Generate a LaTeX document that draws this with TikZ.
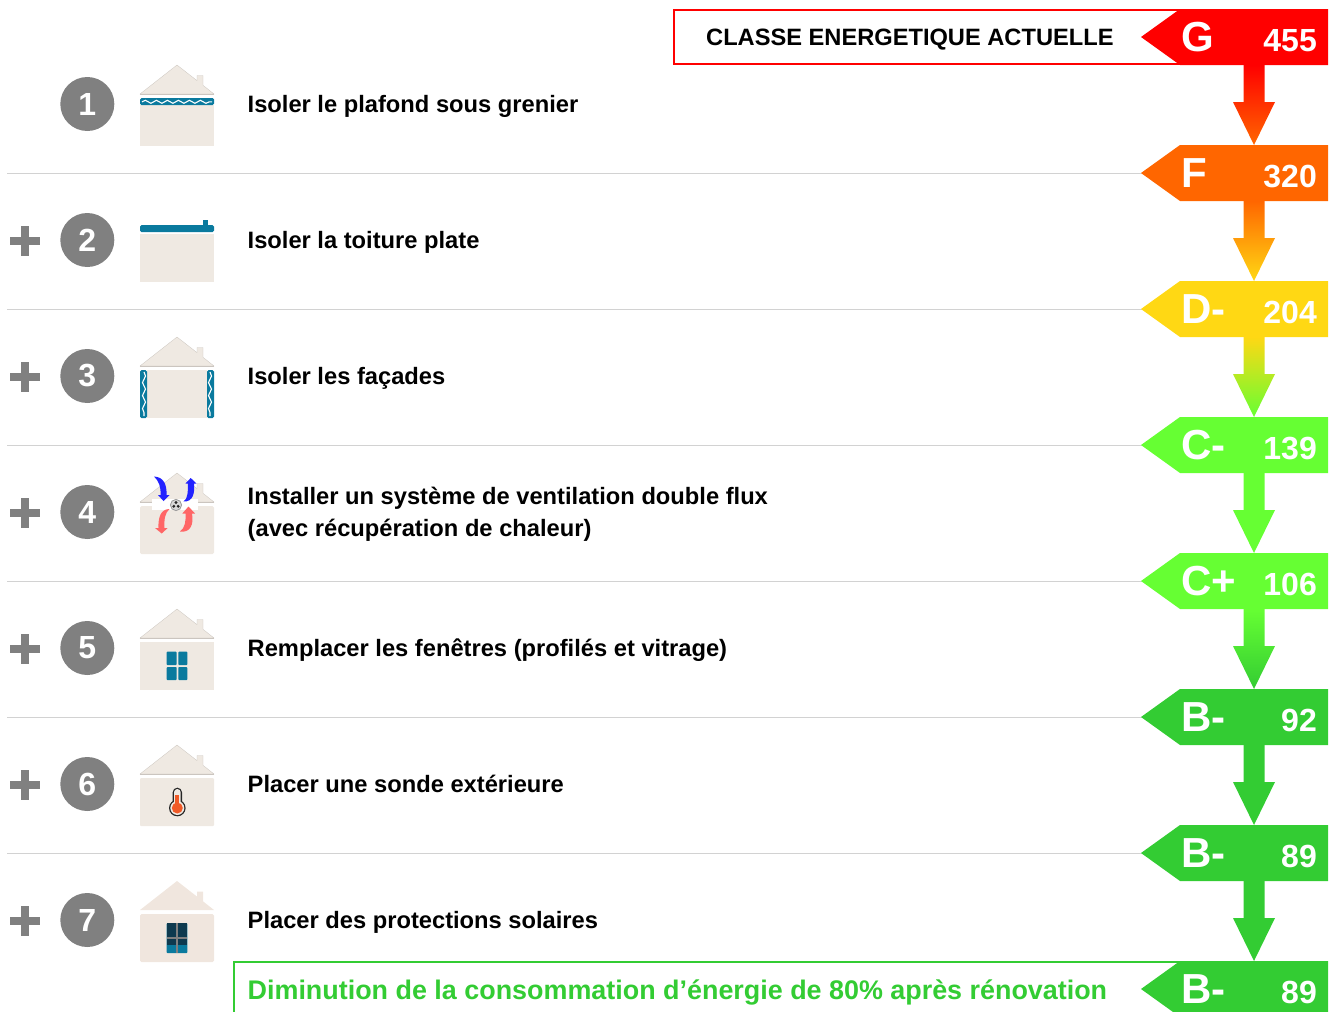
\documentclass[tikz,border=0pt]{standalone}
\usepackage{fontspec}
\setmainfont[Ligatures=NoCommon]{Liberation Sans}
\usetikzlibrary{decorations.pathmorphing,calc,arrows.meta}
\definecolor{wall}{HTML}{EFE9E2}
\definecolor{wallb}{HTML}{F0E6DE}
\definecolor{roofline}{HTML}{CBC5BF}
\definecolor{teal}{HTML}{0A7A9E}
\definecolor{darkpane}{HTML}{0E3A4F}
\definecolor{badge}{HTML}{808080}
\definecolor{sepline}{HTML}{D2D2D2}
\definecolor{cG}{HTML}{FF0000}
\definecolor{cF}{HTML}{FF6600}
\definecolor{cD}{HTML}{FFD814}
\definecolor{cC}{HTML}{66FF33}
\definecolor{cB}{HTML}{33CC33}
\definecolor{airblue}{HTML}{2222FF}
\definecolor{airred}{HTML}{FF6666}
\definecolor{thermo}{HTML}{F05A28}
\tikzset{
  bandbox/.style={minimum width=187pt,minimum height=56pt,inner sep=0pt,outer sep=0pt},
  bandletter/.style={anchor=base west,text=white,inner sep=0pt,font=\fontsize{42}{42}\selectfont\bfseries},
  bandvalue/.style={anchor=base east,text=white,inner sep=0pt,font=\fontsize{32}{32}\selectfont\bfseries},
  numbadge/.style={circle,fill=badge,text=white,minimum size=54pt,inner sep=0pt,font=\fontsize{32}{32}\selectfont\bfseries},
  steptext/.style={anchor=base west,inner sep=0pt,text=black,font=\fontsize{23.7}{23.7}\selectfont\bfseries},
  sep/.style={draw=sepline,line width=0.9pt},
  wave/.style={draw=white,line width=1.1pt,decorate,decoration={snake,amplitude=1.5pt,segment length=11pt}},
}
% name, centre y, colour, letter, value
\newcommand{\band}[5]{%
  \node[bandbox] (b#1) at (1234.5,#2) {};
  \fill[#3] (b#1.west) -- ($(b#1.north west)+(39,0)$) -- (b#1.north east) -- (b#1.south east) -- ($(b#1.south west)+(39,0)$) -- cycle;
  \coordinate (b#1-in) at ($(b#1.north west)+(113,0)$);
  \coordinate (b#1-out) at ($(b#1.south west)+(113,0)$);
  \node[bandletter] (l#1) at ($(b#1.center)+(-53.5,14)$) {#4};
  \node[bandvalue] (v#1) at ($(b#1.center)+(82.5,14)$) {#5};
}
\newcommand{\flow}[4]{%
  \shade[top color=#3,bottom color=#4]
    ($(b#1-out)+(-10.5,0)$) -- ($(b#2-in)+(-10.5,-43)$) -- ($(b#2-in)+(-21,-43)$) -- (b#2-in)
    -- ($(b#2-in)+(21,-43)$) -- ($(b#2-in)+(10.5,-43)$) -- ($(b#1-out)+(10.5,0)$) -- cycle;
}
\newcommand{\houseroof}{%
  \filldraw[fill=wall,draw=roofline,line width=.3pt] (0,29) -- (37,0) -- (57,15.6) -- (57,10.5) -- (63,10.5) -- (63,20.3) -- (74,29) -- cycle;
  \draw[roofline,line width=1pt] (0,29.5) -- (74,29.5);
}
\newcommand{\plus}[1]{%
  \fill[badge] (9.5,#1-4) rectangle (39.5,#1+4);
  \fill[badge] (20.5,#1-15) rectangle (28.5,#1+15);
}
\begin{document}
\begin{tikzpicture}[x=1pt,y=-1pt]
\useasboundingbox (0,0) rectangle (1334,1012);
\begin{scope}
\clip (0,0) rectangle (1334,1012);
\foreach \yy in {173,309,445,581,717,853}{\draw[sep] (7,\yy) -- (1142,\yy);}
\draw[cG,line width=2.4pt] (1190,10.2) -- (674,10.2) -- (674,63.8) -- (1190,63.8);
\draw[cB,line width=2.4pt] (1190,962.2) -- (234,962.2) -- (234,1014);
\band{g}{37}{cG}{G}{455}
\band{f}{173}{cF}{F}{320}
\band{d}{309}{cD}{D-}{204}
\band{c}{445}{cC}{C-}{139}
\band{p}{581}{cC}{C+}{106}
\band{m}{717}{cB}{B-}{92}
\band{n}{853}{cB}{B-}{89}
\band{z}{989}{cB}{B-}{89}
\flow{g}{f}{cG}{cF}
\flow{f}{d}{cF}{cD}
\flow{d}{c}{cD}{cC}
\flow{c}{p}{cC}{cC}
\flow{p}{m}{cC}{cB}
\flow{m}{n}{cB}{cB}
\flow{n}{z}{cB}{cB}
\end{scope}
\node[anchor=base west,inner sep=0pt,font=\fontsize{23.65}{24}\selectfont\bfseries] (actuelle) at (706,45) {CLASSE ENERGETIQUE ACTUELLE};
\node[anchor=base west,inner sep=0pt,text=cB,font=\fontsize{26.9}{27}\selectfont\bfseries] (reduction) at (247.5,999) {Diminution de la consommation d’énergie de 80\% après rénovation};
\node[numbadge] (n1) at (87.3,104) {1};
\node[numbadge] (n2) at (87.3,240) {2};
\node[numbadge] (n3) at (87.3,376) {3};
\node[numbadge] (n4) at (87.3,512) {4};
\node[numbadge] (n5) at (87.3,648) {5};
\node[numbadge] (n6) at (87.3,784) {6};
\node[numbadge] (n7) at (87.3,920) {7};
\plus{241}\plus{377}\plus{513}\plus{649}\plus{785}\plus{921}
\node[steptext] (t1) at (247.5,112) {Isoler le plafond sous grenier};
\node[steptext] (t2) at (247.5,248) {Isoler la toiture plate};
\node[steptext] (t3) at (247.5,384) {Isoler les façades};
\node[steptext] (t4a) at (247.5,504) {Installer un système de ventilation double flux};
\node[steptext] (t4b) at (247.5,536) {(avec récupération de chaleur)};
\node[steptext] (t5) at (247.5,656) {Remplacer les fenêtres (profilés et vitrage)};
\node[steptext] (t6) at (247.5,792) {Placer une sonde extérieure};
\node[steptext] (t7) at (247.5,928) {Placer des protections solaires};
% house 1
\begin{scope}[shift={(140,65)}]
  \houseroof
  \fill[wall] (0,40) rectangle (74,81);
  \fill[teal,rounded corners=1.5pt] (0,33) rectangle (74,40);
  \draw[wave] (2,36.8) -- (72,36.8);
\end{scope}
% house 2
\begin{scope}[shift={(140,201)}]
  \fill[teal] (63,19) rectangle (68,26);
  \fill[teal,rounded corners=1.5pt] (0,24) rectangle (74,31);
  \fill[wall] (0,33) rectangle (74,81);
\end{scope}
% house 3
\begin{scope}[shift={(140,337)}]
  \houseroof
  \fill[wall] (7,33) rectangle (67,81);
  \fill[teal,rounded corners=1.5pt] (0,33) rectangle (7,81);
  \fill[teal,rounded corners=1.5pt] (67,33) rectangle (74,81);
  \draw[wave,decoration={segment length=13pt}] (4,35) -- (4,79);
  \draw[wave,decoration={segment length=13pt}] (70,35) -- (70,79);
\end{scope}
% house 4
\begin{scope}[shift={(140,473)}]
  \houseroof
  \fill[wall,rounded corners=1.5pt] (0,33) rectangle (74,81);
  \draw[white,line width=1pt] (0,31) -- (74,31);
  \fill[white] (12.3,26.3) rectangle (58.3,37);
  \filldraw[draw=gray!80,fill=gray!30,line width=.8pt] (36,32) circle (5.6);
  \fill[black!85] (36,29.5) circle (1.6);
  \fill[black!85] (33.8,33.3) circle (1.6);
  \fill[black!85] (38.2,33.3) circle (1.6);
  \fill[airblue] (14,3.5) .. controls (24,4) and (27,12) .. (26.5,22) -- (29.5,22) -- (23.5,28) -- (18,22) -- (20.5,22) .. controls (21,14) and (19,8) .. (14,3.5) -- cycle;
  \fill[airblue] (43.5,28.5) .. controls (48,26) and (48,18) .. (47.8,10.5) -- (45.5,10.5) -- (50.7,5) -- (56.5,10.5) -- (54,10.5) .. controls (55,20) and (53,29) .. (43.5,28.5) -- cycle;
  \fill[airred] (29.5,36) .. controls (21,36) and (18,44) .. (18.5,55) -- (15,55) -- (21.7,60.5) -- (27.7,55) -- (24.5,55) .. controls (24,46) and (25,40) .. (29.5,36) -- cycle;
  \fill[airred] (40,58.5) .. controls (45,55) and (46,48) .. (45.5,40.5) -- (42.3,40.5) -- (48.5,33.5) -- (55,40.5) -- (52,40.5) .. controls (54,52) and (50,60) .. (40,58.5) -- cycle;
\end{scope}
% house 5
\begin{scope}[shift={(140,609)}]
  \houseroof
  \fill[wall] (0,33) rectangle (74,81);
  \fill[teal,rounded corners=.8pt] (26.7,42.7) rectangle (36.7,56);
  \fill[teal,rounded corners=.8pt] (38.3,42.7) rectangle (47.3,56);
  \fill[teal,rounded corners=.8pt] (26.7,58) rectangle (36.7,71);
  \fill[teal,rounded corners=.8pt] (38.3,58) rectangle (47.3,71);
\end{scope}
% house 6
\begin{scope}[shift={(140,745)}]
  \houseroof
  \fill[wall,rounded corners=1pt] (0,33) rectangle (74,81);
  \fill[black!85,rounded corners=4.6pt] (32.7,42.7) rectangle (42,62);
  \fill[black!85] (37.3,63) circle (8.3);
  \fill[wall,rounded corners=3.3pt] (34,44) rectangle (40.7,62);
  \fill[wall] (37.3,63) circle (7);
  \fill[thermo] (35.3,50) rectangle (39.3,60);
  \fill[thermo] (37.3,63) circle (5.5);
\end{scope}
% house 7
\begin{scope}[shift={(140,881)}]
  \fill[wallb] (0,29) -- (37,0) -- (57,15.6) -- (57,10.5) -- (63,10.5) -- (63,20.3) -- (74,29) -- cycle;
  \fill[wallb,rounded corners=1.5pt] (0,33) rectangle (74,81);
  \fill[teal,rounded corners=.8pt] (26.7,42) rectangle (47.3,72);
  \fill[darkpane] (26.7,42) rectangle (47.3,64);
  \fill[gray] (36.2,42) rectangle (38.2,72);
  \fill[gray] (26.7,55.5) rectangle (47.3,57.5);
\end{scope}
\end{tikzpicture}
\end{document}
